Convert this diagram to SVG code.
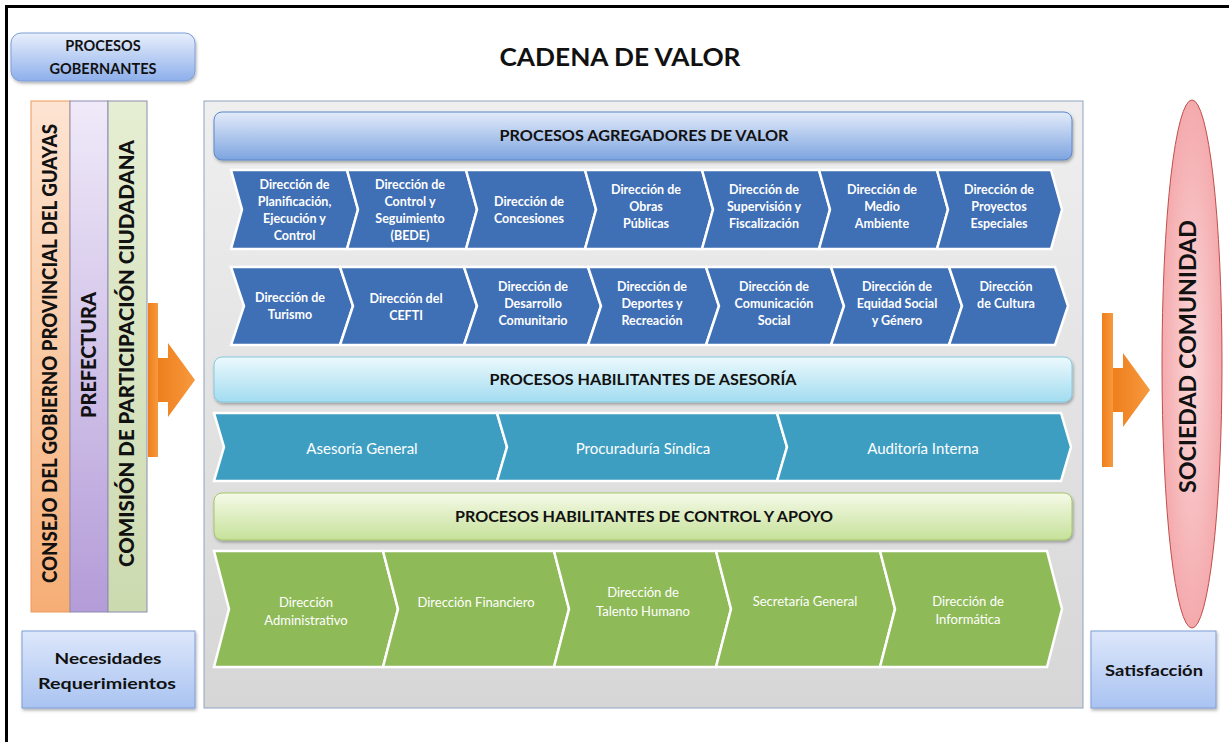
<svg xmlns="http://www.w3.org/2000/svg" width="1229" height="742" viewBox="0 0 1229 742">
<defs>
<linearGradient id="gGob" x1="0" y1="0" x2="0" y2="1"><stop offset="0" stop-color="#E8EFFC"/><stop offset="1" stop-color="#8DAFEB"/></linearGradient>
<linearGradient id="gBox" x1="0" y1="0" x2="0" y2="1"><stop offset="0" stop-color="#DDE7FB"/><stop offset="1" stop-color="#A9C3F1"/></linearGradient>
<linearGradient id="gPanel" x1="0" y1="0" x2="0" y2="1"><stop offset="0" stop-color="#EFEFEF"/><stop offset="1" stop-color="#D6D6D6"/></linearGradient>
<linearGradient id="gAgr" x1="0" y1="0" x2="0" y2="1"><stop offset="0" stop-color="#E3EBFA"/><stop offset="1" stop-color="#7DA4DF"/></linearGradient>
<linearGradient id="gAse" x1="0" y1="0" x2="0" y2="1"><stop offset="0" stop-color="#ECF9FD"/><stop offset="1" stop-color="#A2DCF0"/></linearGradient>
<linearGradient id="gCtl" x1="0" y1="0" x2="0" y2="1"><stop offset="0" stop-color="#F5FAE8"/><stop offset="1" stop-color="#C6E19A"/></linearGradient>
<linearGradient id="gOr" x1="0" y1="0" x2="0" y2="1"><stop offset="0" stop-color="#FDE4D2"/><stop offset="1" stop-color="#F6AE76"/></linearGradient>
<linearGradient id="gPu" x1="0" y1="0" x2="0" y2="1"><stop offset="0" stop-color="#F0EAF9"/><stop offset="1" stop-color="#B49CD8"/></linearGradient>
<linearGradient id="gGr" x1="0" y1="0" x2="0" y2="1"><stop offset="0" stop-color="#E6EED3"/><stop offset="1" stop-color="#CCDAB0"/></linearGradient>
<radialGradient id="gEll" cx="0.5" cy="0.5" r="0.5"><stop offset="0" stop-color="#FBD6D8"/><stop offset="1" stop-color="#F4AAAD"/></radialGradient>
<linearGradient id="gArr" x1="0" y1="0" x2="1" y2="0"><stop offset="0" stop-color="#EE7F1C"/><stop offset="1" stop-color="#F7993F"/></linearGradient>
<filter id="sh" x="-5%" y="-20%" width="110%" height="150%"><feDropShadow dx="1" dy="2" stdDeviation="1.5" flood-color="#000" flood-opacity="0.3"/></filter>
</defs>
<style>
text{font-family:Lato,"Liberation Sans",Arial,sans-serif}
.hd{font-size:14.5px;font-weight:bold;fill:#111;text-anchor:middle}
.bx{font-size:15.5px;font-weight:bold;fill:#111;text-anchor:middle}
.col{font-size:20px;font-weight:900;fill:#111;text-anchor:middle}
.cv{font-size:12.5px;font-weight:bold;fill:#fff;text-anchor:middle}
.as{font-size:15px;fill:#fff;text-anchor:middle}
.gt{font-size:13px;fill:#fff;text-anchor:middle}
.blue{fill:#3F6FB5;stroke:#fff;stroke-width:2.5}
.teal{fill:#3E9EC2;stroke:#fff;stroke-width:2.5}
.green{fill:#8FBA58;stroke:#fff;stroke-width:2.5}
.arr{fill:url(#gArr)}
</style>
<rect x="0" y="0" width="1229" height="742" fill="#fff"/>
<g id="frame">
<line x1="5" y1="6.5" x2="1229" y2="6.5" stroke="#000" stroke-width="3"/>
<line x1="6.5" y1="5" x2="6.5" y2="742" stroke="#000" stroke-width="3"/>
</g>
<g id="title"><text x="620" y="66" font-size="25" font-weight="bold" fill="#111" text-anchor="middle" textLength="241" lengthAdjust="spacingAndGlyphs">CADENA DE VALOR</text></g>
<g id="procesos-gobernantes">
<rect x="11" y="33" width="184" height="48" rx="10" fill="url(#gGob)" stroke="#7E9ED6" filter="url(#sh)"/>
<text class="bx" x="103" y="51" style="font-size:14.5px">PROCESOS</text>
<text class="bx" x="103" y="74" style="font-size:14.5px">GOBERNANTES</text>
</g>
<g id="col-consejo">
<rect x="31" y="101" width="39" height="511" fill="url(#gOr)" stroke="#EE9A5A"/>
<text class="col" transform="translate(50,353.5) rotate(-90)" y="7" textLength="459" lengthAdjust="spacingAndGlyphs">CONSEJO DEL GOBIERNO PROVINCIAL DEL GUAYAS</text>
</g>
<g id="col-prefectura">
<rect x="70" y="101" width="38" height="511" fill="url(#gPu)" stroke="#8C8CB0"/>
<text class="col" transform="translate(89,355) rotate(-90)" y="7" textLength="126" lengthAdjust="spacingAndGlyphs">PREFECTURA</text>
</g>
<g id="col-comision">
<rect x="108" y="101" width="39" height="511" fill="url(#gGr)" stroke="#8C8CB0"/>
<text class="col" transform="translate(127,353.5) rotate(-90)" y="7" textLength="427" lengthAdjust="spacingAndGlyphs">COMISIÓN DE PARTICIPACIÓN CIUDADANA</text>
</g>
<g id="necesidades">
<rect x="22" y="631" width="173" height="77" fill="url(#gBox)" stroke="#7E9ED6" filter="url(#sh)"/>
<text class="bx" x="108" y="664" textLength="107" lengthAdjust="spacingAndGlyphs">Necesidades</text>
<text class="bx" x="107" y="689" textLength="138" lengthAdjust="spacingAndGlyphs">Requerimientos</text>
</g>
<g id="panel">
<rect x="204" y="101" width="879" height="607" fill="url(#gPanel)" stroke="#8FA4C2"/>
</g>
<g id="hdr-agregadores">
<rect x="214" y="112" width="858" height="48" rx="8" fill="url(#gAgr)" stroke="#5B87C8" filter="url(#sh)"/>
<text class="hd" x="644" y="141" textLength="289" lengthAdjust="spacingAndGlyphs">PROCESOS AGREGADORES DE VALOR</text>
</g>
<g id="row1">
<path class="blue" d="M231,170 L347,170 L358,209.5 L347,249 L231,249 L242,209.5 Z"/>
<path class="blue" d="M347,170 L466,170 L477,209.5 L466,249 L347,249 L358,209.5 Z"/>
<path class="blue" d="M466,170 L585,170 L596,209.5 L585,249 L466,249 L477,209.5 Z"/>
<path class="blue" d="M585,170 L702,170 L713,209.5 L702,249 L585,249 L596,209.5 Z"/>
<path class="blue" d="M702,170 L819,170 L830,209.5 L819,249 L702,249 L713,209.5 Z"/>
<path class="blue" d="M819,170 L937,170 L948,209.5 L937,249 L819,249 L830,209.5 Z"/>
<path class="blue" d="M937,170 L1051,170 L1062,209.5 L1051,249 L937,249 L948,209.5 Z"/>
</g>
<g id="n-planificacion"><text class="cv" x="294.5" y="188.5">Dirección de</text><text class="cv" x="294.5" y="205.5">Planificación,</text><text class="cv" x="294.5" y="222.5">Ejecución y</text><text class="cv" x="294.5" y="239.5">Control</text></g>
<g id="n-control-bede"><text class="cv" x="410" y="189">Dirección de</text><text class="cv" x="410" y="206">Control y</text><text class="cv" x="410" y="223">Seguimiento</text><text class="cv" x="410" y="240">(BEDE)</text></g>
<g id="n-concesiones"><text class="cv" x="529" y="205.5">Dirección de</text><text class="cv" x="529" y="222.5">Concesiones</text></g>
<g id="n-obras"><text class="cv" x="646" y="193.5">Dirección de</text><text class="cv" x="646" y="210.5">Obras</text><text class="cv" x="646" y="227.5">Públicas</text></g>
<g id="n-supervision"><text class="cv" x="764" y="193.5">Dirección de</text><text class="cv" x="764" y="210.5">Supervisión y</text><text class="cv" x="764" y="227.5">Fiscalización</text></g>
<g id="n-medio"><text class="cv" x="882" y="193.5">Dirección de</text><text class="cv" x="882" y="210.5">Medio</text><text class="cv" x="882" y="227.5">Ambiente</text></g>
<g id="n-proyectos"><text class="cv" x="999" y="193.5">Dirección de</text><text class="cv" x="999" y="210.5">Proyectos</text><text class="cv" x="999" y="227.5">Especiales</text></g>
<g id="row2">
<path class="blue" d="M231,267 L340,267 L353,306 L340,345 L231,345 L244,306 Z"/>
<path class="blue" d="M340,267 L464,267 L477,306 L464,345 L340,345 L353,306 Z"/>
<path class="blue" d="M464,267 L588,267 L601,306 L588,345 L464,345 L477,306 Z"/>
<path class="blue" d="M588,267 L706,267 L719,306 L706,345 L588,345 L601,306 Z"/>
<path class="blue" d="M706,267 L831,267 L844,306 L831,345 L706,345 L719,306 Z"/>
<path class="blue" d="M831,267 L949,267 L962,306 L949,345 L831,345 L844,306 Z"/>
<path class="blue" d="M949,267 L1055,267 L1068,306 L1055,345 L949,345 L962,306 Z"/>
</g>
<g id="n-turismo"><text class="cv" x="290" y="301.5">Dirección de</text><text class="cv" x="290" y="318.5">Turismo</text></g>
<g id="n-cefti"><text class="cv" x="406" y="302.5">Dirección del</text><text class="cv" x="406" y="319.5">CEFTI</text></g>
<g id="n-desarrollo"><text class="cv" x="533" y="290.5">Dirección de</text><text class="cv" x="533" y="307.5">Desarrollo</text><text class="cv" x="533" y="324.5">Comunitario</text></g>
<g id="n-deportes"><text class="cv" x="652" y="290.5">Dirección de</text><text class="cv" x="652" y="307.5">Deportes y</text><text class="cv" x="652" y="324.5">Recreación</text></g>
<g id="n-comunicacion"><text class="cv" x="774" y="290.5">Dirección de</text><text class="cv" x="774" y="307.5">Comunicación</text><text class="cv" x="774" y="324.5">Social</text></g>
<g id="n-equidad"><text class="cv" x="897" y="290.5">Dirección de</text><text class="cv" x="897" y="307.5">Equidad Social</text><text class="cv" x="897" y="324.5">y Género</text></g>
<g id="n-cultura"><text class="cv" x="1006" y="290.5">Dirección</text><text class="cv" x="1006" y="307.5">de Cultura</text></g>
<g id="hdr-asesoria">
<rect x="214" y="357" width="858" height="45" rx="8" fill="url(#gAse)" stroke="#86C9DE" filter="url(#sh)"/>
<text class="hd" x="643" y="385" textLength="307" lengthAdjust="spacingAndGlyphs">PROCESOS HABILITANTES DE ASESORÍA</text>
</g>
<g id="row-asesoria">
<path class="teal" d="M214,413 L497,413 L507,447 L497,481 L214,481 L224,447 Z"/>
<path class="teal" d="M497,413 L777,413 L787,447 L777,481 L497,481 L507,447 Z"/>
<path class="teal" d="M777,413 L1061,413 L1071,447 L1061,481 L777,481 L787,447 Z"/>
</g>
<g id="n-asesoria-general"><text class="as" x="362" y="453.5">Asesoría General</text></g>
<g id="n-procuraduria"><text class="as" x="643" y="453.5">Procuraduría Síndica</text></g>
<g id="n-auditoria"><text class="as" x="923" y="453.5">Auditoría Interna</text></g>
<g id="hdr-control">
<rect x="214" y="493" width="858" height="47" rx="8" fill="url(#gCtl)" stroke="#A4C66A" filter="url(#sh)"/>
<text class="hd" x="644" y="522" textLength="378" lengthAdjust="spacingAndGlyphs">PROCESOS HABILITANTES DE CONTROL Y APOYO</text>
</g>
<g id="row-apoyo">
<path class="green" d="M214,551 L383,551 L398,609 L383,667 L214,667 L229,609 Z"/>
<path class="green" d="M383,551 L554,551 L569,609 L554,667 L383,667 L398,609 Z"/>
<path class="green" d="M554,551 L716,551 L731,609 L716,667 L554,667 L569,609 Z"/>
<path class="green" d="M716,551 L880,551 L895,609 L880,667 L716,667 L731,609 Z"/>
<path class="green" d="M880,551 L1047,551 L1062,609 L1047,667 L880,667 L895,609 Z"/>
</g>
<g id="n-administrativo"><text class="gt" x="306" y="606.5">Dirección</text><text class="gt" x="306" y="624.5">Administrativo</text></g>
<g id="n-financiero"><text class="gt" x="476" y="606.5">Dirección Financiero</text></g>
<g id="n-talento"><text class="gt" x="643" y="596.5">Dirección de</text><text class="gt" x="643" y="615.5">Talento Humano</text></g>
<g id="n-secretaria"><text class="gt" x="805" y="606">Secretaría General</text></g>
<g id="n-informatica"><text class="gt" x="968" y="605.5">Dirección de</text><text class="gt" x="968" y="623.5">Informática</text></g>
<g id="sociedad">
<ellipse cx="1192" cy="364" rx="30" ry="264" fill="url(#gEll)" stroke="#C0504D" stroke-width="1"/>
<text transform="translate(1188,356.5) rotate(-90)" y="8" font-size="22" font-weight="bold" fill="#111" text-anchor="middle" textLength="273" lengthAdjust="spacingAndGlyphs">SOCIEDAD COMUNIDAD</text>
</g>
<g id="satisfaccion">
<rect x="1091" y="631" width="125" height="77" fill="url(#gBox)" stroke="#7E9ED6" filter="url(#sh)"/>
<text class="bx" x="1154" y="676" textLength="98" lengthAdjust="spacingAndGlyphs">Satisfacción</text>
</g>
<g id="connectors">
<rect class="arr" x="148" y="303" width="10" height="154"/>
<polygon class="arr" points="158,358 168,358 168,343 195,380 168,417 168,402 158,402"/>
<rect class="arr" x="1102" y="313" width="11" height="154"/>
<polygon class="arr" points="1113,368 1123,368 1123,353 1150,390 1123,427 1123,412 1113,412"/>
</g>
</svg>
